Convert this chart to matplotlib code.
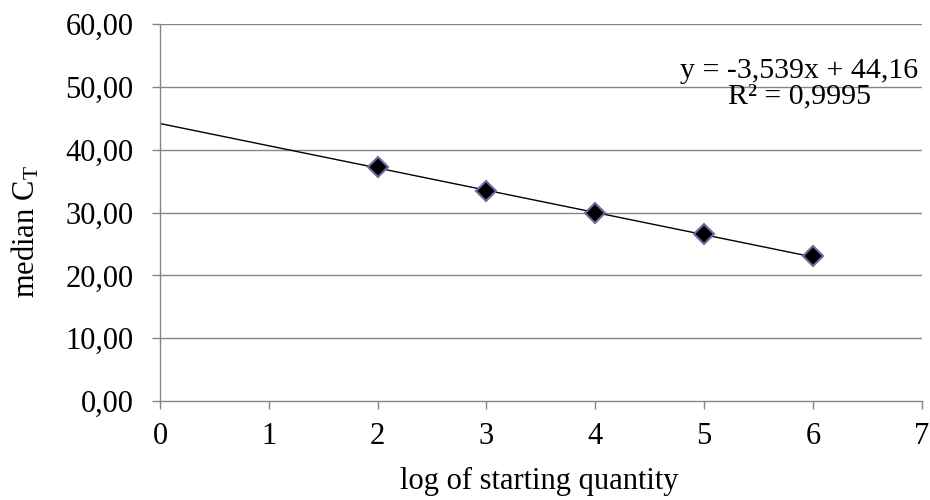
import matplotlib
matplotlib.use("Agg")
import matplotlib.pyplot as plt
import numpy as np

plt.rcParams['font.family'] = ['Liberation Serif', 'DejaVu Serif']
plt.rcParams['mathtext.fontset'] = 'custom'
plt.rcParams['mathtext.rm'] = 'Liberation Serif'
plt.rcParams['mathtext.it'] = 'Liberation Serif:italic'

log_qty = [2, 3, 4, 5, 6]
median_ct = [37.2, 33.4, 30.0, 26.5, 23.0]
slope = -3.539
intercept = 44.16
r2_text = "0,9995"
y_ticks = [0, 10, 20, 30, 40, 50, 60]
x_ticks = [0, 1, 2, 3, 4, 5, 6, 7]

W, H = 930, 500
fig = plt.figure(figsize=(W/100, H/100), dpi=100)
ax = fig.add_axes([160/W, 99/H, (921.7-160)/W, (401-24)/H])

grid_c = '#868686'
for y in y_ticks[1:]:
    ax.axhline(y, color=grid_c, lw=1.0, zorder=0)

xs = np.array([0, 6])
ax.plot(xs, slope*xs + intercept, color='black', lw=1.0, zorder=2)
ax.plot(log_qty, median_ct, linestyle='none', marker='D', markersize=10.5,
        markerfacecolor='black', markeredgecolor='#6a6a9e', markeredgewidth=1.5, zorder=3)

ax.set_xlim(0, 7)
ax.set_ylim(0, 60)
ax.set_xticks(x_ticks)
ax.set_yticks(y_ticks)
ax.set_yticklabels([f"{v:.2f}".replace('.', ',') for v in y_ticks])
ax.tick_params(axis='both', direction='out', length=6, width=1, color=grid_c, labelsize=22)
ax.tick_params(axis='y', pad=13)
ax.tick_params(axis='x', pad=9)
for s in ['top', 'right']:
    ax.spines[s].set_visible(False)
for s in ['left', 'bottom']:
    ax.spines[s].set_color(grid_c)
    ax.spines[s].set_linewidth(1.0)

ax.set_xlabel("log of starting quantity", fontsize=22)
ax.xaxis.set_label_coords((539-160)/761.7, (401-481)/377)
ax.xaxis.label.set_va('center')
ax.set_ylabel(r"median C$_\mathrm{T}$", fontsize=22)
ax.yaxis.set_label_coords((26-160)/761.7, (401-232)/377)
ax.yaxis.label.set_va('center')

eq = f"y = {slope:.3f}x + {intercept:.2f}".replace('.', ',')
ax.text(799, H-78, eq, transform=None, fontsize=21.5, ha='center', va='baseline')
ax.text(799, H-103, "R² = " + r2_text, transform=None, fontsize=21.5, ha='center', va='baseline')

fig.savefig("out.png", dpi=100)
